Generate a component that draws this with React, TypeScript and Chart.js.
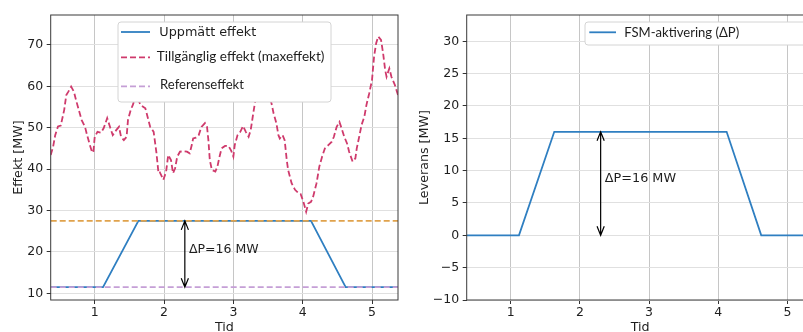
import React, { useEffect, useRef } from "react";
import { Chart, registerables } from "chart.js";

Chart.register(...registerables);

// ---------- data ----------
const X_MIN = 0.365;
const X_MAX = 5.375;
const xTicks = [1, 2, 3, 4, 5];
const leftYTicks = [10, 20, 30, 40, 50, 60, 70];
const rightYTicks = [-10, -5, 0, 5, 10, 15, 20, 25, 30];

const availTime = [
  0.365, 0.4, 0.43, 0.47, 0.51, 0.56, 0.59, 0.62, 0.66, 0.7, 0.73, 0.77, 0.81, 0.86, 0.89, 0.93, 0.96, 0.98,
  1.0, 1.04, 1.09, 1.13, 1.18, 1.22, 1.26, 1.31, 1.35, 1.38, 1.42, 1.46, 1.48, 1.52, 1.55, 1.6, 1.66, 1.73,
  1.8, 1.85, 1.89, 1.92, 1.94, 1.99, 2.03, 2.06, 2.1, 2.13, 2.16, 2.19, 2.23, 2.28, 2.33, 2.37, 2.4, 2.42,
  2.46, 2.5, 2.54, 2.59, 2.62, 2.64, 2.66, 2.69, 2.74, 2.77, 2.8, 2.83, 2.88, 2.93, 2.97, 3.0, 3.02, 3.06,
  3.1, 3.14, 3.18, 3.22, 3.25, 3.28, 3.31, 3.35, 3.4, 3.45, 3.5, 3.55, 3.58, 3.62, 3.65, 3.67, 3.71, 3.74,
  3.77, 3.79, 3.84, 3.89, 3.94, 3.97, 4.01, 4.05, 4.08, 4.12, 4.15, 4.2, 4.24, 4.28, 4.32, 4.37, 4.42, 4.45,
  4.49, 4.53, 4.56, 4.6, 4.64, 4.67, 4.72, 4.76, 4.78, 4.82, 4.85, 4.89, 4.92, 4.96, 5.0, 5.03, 5.06, 5.09,
  5.13, 5.16, 5.19, 5.21, 5.25, 5.28, 5.33, 5.36, 5.375,
];
const availPower = [
  43.4, 45.4, 48.2, 50.3, 50.5, 54.3, 57.9, 58.7, 59.9, 58.7, 56.7, 54.3, 51.9, 50.2, 48.2, 45.8, 44.2, 44.0,
  47.8, 49.0, 48.8, 49.9, 52.3, 50.2, 48.2, 49.4, 50.2, 47.8, 47.0, 47.8, 51.9, 54.3, 55.5, 58.0, 55.5, 54.7,
  50.2, 49.0, 44.0, 39.0, 39.2, 37.4, 39.4, 43.4, 42.2, 39.0, 40.2, 43.0, 44.2, 44.3, 44.2, 43.8, 45.8, 47.4,
  47.6, 48.2, 50.2, 51.1, 50.2, 47.0, 42.2, 39.8, 39.4, 40.6, 43.0, 45.0, 45.6, 45.6, 44.4, 43.0, 45.8, 48.2,
  49.0, 50.4, 49.0, 47.8, 49.4, 52.7, 55.9, 59.0, 61.5, 60.0, 58.5, 55.9, 53.5, 51.1, 48.2, 47.4, 48.2, 47.0,
  42.2, 39.8, 36.6, 35.0, 34.2, 34.0, 32.1, 29.7, 31.7, 32.1, 33.3, 36.6, 40.6, 43.0, 45.0, 45.8, 46.6, 47.8,
  50.2, 51.4, 49.9, 47.8, 46.2, 44.2, 41.8, 42.6, 45.0, 48.2, 50.7, 52.7, 55.5, 58.3, 61.5, 67.2, 70.4, 72.0,
  71.2, 68.0, 63.9, 62.3, 64.3, 62.3, 60.3, 58.7, 57.9,
];

const stepTime = [0.365, 1.12, 1.63, 4.12, 4.62, 5.375];
const measuredPower = [11.5, 11.5, 27.5, 27.5, 11.5, 11.5];
const fsmDelivery = [0, 0, 16, 16, 0, 0];
const referencePower = 11.5;
const maxPower = 27.5;

const deltaLabel = "ΔP=16 MW";
const arrowTime = 2.3;
const deltaLabelTime = 2.36;
const leftDeltaLabelY = 20.6;
const rightDeltaLabelY = 8.7;

// ---------- styles ----------
const BLUE = "#2f7fc1";
const RED = "#cf3a6c";
const ORANGE = "#e0a24c";
const PURPLE = "#c59fd6";
const TEXT = "#1e1e1e";
const DV = "'DejaVu Sans', sans-serif";
const CAL = "Lato, 'Open Sans', sans-serif";

const pts = (xs: number[], ys: number[]) => xs.map((x, i) => ({ x, y: ys[i] }));

function fitSize(ctx: CanvasRenderingContext2D, text: string, family: string, width: number) {
  ctx.font = `14px ${family}`;
  const w = ctx.measureText(text).width;
  return (14 * width) / w;
}

type Row = { dataset: number; sx0: number; sx1: number; sy: number; tx: number; ty: number; family: string; width: number };
type Overlay = {
  arrow: { x: number; y0: number; y1: number; text: string; tx: number; ty: number; fontSize: number };
  legend: { x: number; y: number; w: number; h: number; rows: Row[] };
};

function makeOverlay(ov: Overlay) {
  return {
    id: "overlay",
    afterDraw(chart: any) {
      const { ctx, chartArea: a, scales } = chart;
      const xs = scales.x;
      const ys = scales.y;
      ctx.save();
      // arrow + label
      const ar = ov.arrow;
      const px = xs.getPixelForValue(ar.x);
      const p0 = ys.getPixelForValue(ar.y0);
      const p1 = ys.getPixelForValue(ar.y1);
      ctx.setLineDash([]);
      ctx.strokeStyle = "#000";
      ctx.lineWidth = 1.2;
      ctx.beginPath();
      ctx.moveTo(px, p0);
      ctx.lineTo(px, p1);
      const hl = 9;
      const hw = 3.6;
      ctx.moveTo(px - hw, p1 + hl);
      ctx.lineTo(px, p1);
      ctx.lineTo(px + hw, p1 + hl);
      ctx.moveTo(px - hw, p0 - hl);
      ctx.lineTo(px, p0);
      ctx.lineTo(px + hw, p0 - hl);
      ctx.stroke();
      ctx.fillStyle = TEXT;
      ctx.font = `${ar.fontSize}px ${DV}`;
      ctx.textAlign = "left";
      ctx.textBaseline = "middle";
      ctx.fillText(ar.text, xs.getPixelForValue(ar.tx), ys.getPixelForValue(ar.ty));
      // frame
      ctx.strokeStyle = "#3a3a3a";
      ctx.lineWidth = 1;
      ctx.strokeRect(a.left, a.top, a.right - a.left, a.bottom - a.top);
      // legend box
      const lg = ov.legend;
      const r = 3;
      const x = lg.x, y = lg.y, w = lg.w, h = lg.h;
      ctx.beginPath();
      ctx.moveTo(x + r, y);
      ctx.lineTo(x + w - r, y);
      ctx.quadraticCurveTo(x + w, y, x + w, y + r);
      ctx.lineTo(x + w, y + h - r);
      ctx.quadraticCurveTo(x + w, y + h, x + w - r, y + h);
      ctx.lineTo(x + r, y + h);
      ctx.quadraticCurveTo(x, y + h, x, y + h - r);
      ctx.lineTo(x, y + r);
      ctx.quadraticCurveTo(x, y, x + r, y);
      ctx.closePath();
      ctx.fillStyle = "#ffffff";
      ctx.fill();
      ctx.strokeStyle = "#d4d4d4";
      ctx.lineWidth = 1;
      ctx.stroke();
      for (const row of lg.rows) {
        const ds = chart.data.datasets[row.dataset];
        ctx.beginPath();
        ctx.strokeStyle = ds.borderColor;
        ctx.lineWidth = ds.borderWidth;
        ctx.setLineDash(ds.borderDash || []);
        ctx.moveTo(row.sx0, row.sy);
        ctx.lineTo(row.sx1, row.sy);
        ctx.stroke();
        ctx.setLineDash([]);
        const size = fitSize(ctx, ds.label, row.family, row.width);
        ctx.font = `${size}px ${row.family}`;
        ctx.fillStyle = TEXT;
        ctx.textAlign = "left";
        ctx.textBaseline = "middle";
        ctx.fillText(ds.label, row.tx, row.ty);
      }
      ctx.restore();
    },
  };
}

function xScale(height: number) {
  return {
    type: "linear",
    min: X_MIN,
    max: X_MAX,
    afterBuildTicks: (axis: any) => {
      axis.ticks = xTicks.map((v) => ({ value: v }));
    },
    afterFit: (scale: any) => {
      scale.height = height;
    },
    grid: { color: "#c6c6c6", lineWidth: 1, drawTicks: true, tickLength: 4, tickColor: "#333", tickWidth: 1 },
    border: { display: false },
    ticks: {
      font: { family: DV, size: 12.5 },
      color: TEXT,
      padding: 1,
      maxRotation: 0,
      autoSkip: false,
      callback: (v: any) => String(v),
    },
    title: { display: true, text: "Tid", color: TEXT, font: { family: DV, size: 12.7 }, padding: { top: 0, bottom: 10 } },
  };
}

function yScale(min: number, max: number, ticks: number[], width: number, title: string, titlePad: number) {
  return {
    type: "linear",
    min,
    max,
    afterBuildTicks: (axis: any) => {
      axis.ticks = ticks.map((v) => ({ value: v }));
    },
    afterFit: (scale: any) => {
      scale.width = width;
    },
    grid: { color: "#e0e0e0", lineWidth: 1, drawTicks: true, tickLength: 4, tickColor: "#333", tickWidth: 1 },
    border: { display: false },
    ticks: {
      font: { family: DV, size: 12.5 },
      color: TEXT,
      padding: 3.5,
      autoSkip: false,
      callback: (v: any) => (v < 0 ? "\u2212" + Math.abs(v) : String(v)),
    },
    title: { display: true, text: title, color: TEXT, font: { family: DV, size: 12.7 }, padding: { top: titlePad, bottom: 0 } },
  };
}

const CANVAS_H = 345;

function leftConfig(): any {
  return {
    type: "line",
    data: {
      datasets: [
        { label: "Uppmätt effekt", data: pts(stepTime, measuredPower), borderColor: BLUE, borderWidth: 1.8, pointRadius: 0, order: 2 },
        {
          label: "Tillgänglig effekt (maxeffekt)",
          data: pts(availTime, availPower),
          borderColor: RED,
          borderWidth: 1.8,
          borderDash: [6, 3],
          pointRadius: 0,
          order: 3,
        },
        {
          label: "Referenseffekt",
          data: pts([X_MIN, X_MAX], [referencePower, referencePower]),
          borderColor: PURPLE,
          borderWidth: 1.8,
          borderDash: [6, 3],
          pointRadius: 0,
          order: 0,
        },
        {
          label: "",
          data: pts([X_MIN, X_MAX], [maxPower, maxPower]),
          borderColor: ORANGE,
          borderWidth: 1.8,
          borderDash: [6, 3],
          pointRadius: 0,
          order: 1,
        },
      ],
    },
    options: {
      animation: false,
      responsive: false,
      devicePixelRatio: 1,
      events: [],
      layout: { padding: { left: 0, top: 15, right: 22, bottom: 0 } },
      scales: {
        x: xScale(CANVAS_H - 300),
        y: yScale(8.4, 77.2, leftYTicks, 50.7, "Effekt [MW]", 11.2),
      },
      plugins: { legend: { display: false }, tooltip: { enabled: false } },
    },
    plugins: [
      makeOverlay({
        arrow: { x: arrowTime, y0: referencePower, y1: maxPower, text: deltaLabel, tx: deltaLabelTime, ty: leftDeltaLabelY, fontSize: 12.5 },
        legend: {
          x: 118,
          y: 22,
          w: 213,
          h: 80,
          rows: [
            { dataset: 0, sx0: 121, sx1: 150, sy: 32, tx: 159.3, ty: 32.5, family: DV, width: 97 },
            { dataset: 1, sx0: 121, sx1: 150, sy: 57.3, tx: 156.7, ty: 56.8, family: CAL, width: 168 },
            { dataset: 2, sx0: 121, sx1: 150, sy: 86.3, tx: 160, ty: 85.2, family: CAL, width: 84 },
          ],
        },
      }),
    ],
  };
}

function rightConfig(): any {
  return {
    type: "line",
    data: {
      datasets: [
        { label: "FSM-aktivering (ΔP)", data: pts(stepTime, fsmDelivery), borderColor: BLUE, borderWidth: 1.8, pointRadius: 0 },
      ],
    },
    options: {
      animation: false,
      responsive: false,
      devicePixelRatio: 1,
      events: [],
      layout: { padding: { left: 0, top: 15, right: 16.5, bottom: 0 } },
      scales: {
        x: xScale(CANVAS_H - 300),
        y: yScale(-10, 34.06, rightYTicks, 66.7, "Leverans [MW]", 16.6),
      },
      plugins: { legend: { display: false }, tooltip: { enabled: false } },
    },
    plugins: [
      makeOverlay({
        arrow: { x: arrowTime, y0: 0, y1: 16, text: deltaLabel, tx: deltaLabelTime, ty: rightDeltaLabelY, fontSize: 12.8 },
        legend: {
          x: 185,
          y: 22,
          w: 260,
          h: 23,
          rows: [{ dataset: 0, sx0: 189.3, sx1: 216, sy: 32.3, tx: 224.3, ty: 32.8, family: CAL, width: 115 }],
        },
      }),
    ],
  };
}

function ChartCanvas({ make, left, width }: { make: () => any; left: number; width: number }) {
  const ref = useRef<HTMLCanvasElement>(null);
  useEffect(() => {
    const chart = new Chart(ref.current as HTMLCanvasElement, make());
    return () => chart.destroy();
  }, []);
  return (
    <canvas
      ref={ref}
      width={width}
      height={CANVAS_H}
      style={{ position: "absolute", left, top: 0, width, height: CANVAS_H, display: "block" }}
    />
  );
}

export default function App() {
  return (
    <div style={{ position: "fixed", left: 0, top: 0, width: 803, height: 332, overflow: "hidden", background: "#fff" }}>
      <ChartCanvas make={leftConfig} left={0} width={420} />
      <ChartCanvas make={rightConfig} left={400} width={430} />
    </div>
  );
}
